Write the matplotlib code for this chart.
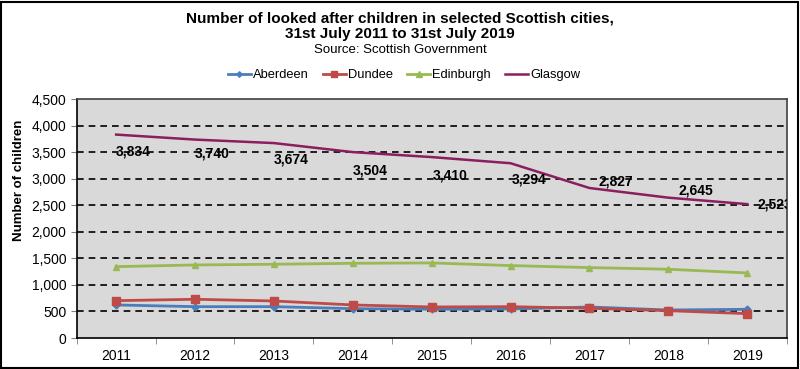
import matplotlib
matplotlib.use("Agg")
import matplotlib.pyplot as plt
from matplotlib.patches import Rectangle
from matplotlib.ticker import FuncFormatter, MultipleLocator, FixedLocator
import numpy as np

years = ["2011", "2012", "2013", "2014", "2015", "2016", "2017", "2018", "2019"]
aberdeen = [623, 591, 591, 553, 541, 547, 585, 528, 541]
dundee = [704, 730, 698, 623, 585, 591, 560, 515, 459]
edinburgh = [1345, 1377, 1390, 1408, 1415, 1365, 1327, 1296, 1226]
glasgow = [3834, 3740, 3674, 3504, 3410, 3294, 2827, 2645, 2523]

# label offsets (pixels: dx, dy with +dy downward) mimicking the reference placement
label_dx = [0, 0, 0, 0, 1, 1, 9, 10, 10]
label_dy = [17, 14, 16, 18, 18, 16, -7, -7, 0]

plt.rcParams['font.family'] = ['Liberation Sans', 'DejaVu Sans']

fig = plt.figure(figsize=(8.0, 3.69), dpi=100)
fig.patches.append(Rectangle((0.0015, 0.003), 0.996, 0.992, transform=fig.transFigure,
                             fill=False, edgecolor='black', linewidth=1.5))

ax = fig.add_axes([0.0959, 0.084, 0.8875, 0.647])
ax.set_facecolor('#D9D9D9')
x = np.arange(len(years))

ax.plot(x, aberdeen, color='#4A7EBB', lw=2, marker='D', ms=3.5, label='Aberdeen', zorder=3)
ax.plot(x, dundee, color='#BE4B48', lw=2, marker='s', ms=5.5, label='Dundee', zorder=4)
ax.plot(x, edinburgh, color='#98B954', lw=2, marker='^', ms=5, label='Edinburgh', zorder=3)
ax.plot(x, glasgow, color='#8B1E5E', lw=1.8, label='Glasgow', zorder=3)

for i, v in enumerate(glasgow):
    ax.annotate(f"{v:,}", (x[i], v), xytext=(label_dx[i] * 0.72, -label_dy[i] * 0.72),
                textcoords='offset points', ha='left', va='center',
                fontsize=10, fontweight='bold', zorder=5, annotation_clip=False, clip_on=True)

ax.set_xlim(-0.5, len(years) - 0.5)
ax.set_ylim(0, 4500)
ax.yaxis.set_major_locator(MultipleLocator(500))
ax.yaxis.set_major_formatter(FuncFormatter(lambda v, p: f"{int(v):,}"))
for yv in range(500, 4500, 500):
    ax.axhline(yv, color='black', lw=1.2, ls=(0, (4, 3)), zorder=1)

ax.set_xticks(x)
ax.set_xticklabels(years)
ax.xaxis.set_minor_locator(FixedLocator(np.arange(-0.5, len(years), 1.0)))
ax.tick_params(axis='x', which='major', length=0, pad=8, labelsize=10)
ax.tick_params(axis='x', which='minor', length=4, direction='out', color='#808080')
ax.tick_params(axis='y', which='major', length=4, direction='out', labelsize=10, color='#808080')

for s in ['left', 'bottom']:
    ax.spines[s].set_color('black')
    ax.spines[s].set_linewidth(1.2)
for s in ['top', 'right']:
    ax.spines[s].set_color('#404040')
    ax.spines[s].set_linewidth(1.2)

ax.set_ylabel('Number of children', fontsize=9.5, fontweight='bold')
ax.yaxis.set_label_coords(-0.073, 0.66)

fig.text(0.5, 0.950, 'Number of looked after children in selected Scottish cities,',
         ha='center', va='center', fontsize=11, fontweight='bold')
fig.text(0.5, 0.907, '31st July 2011 to 31st July 2019',
         ha='center', va='center', fontsize=11, fontweight='bold')
fig.text(0.5, 0.865, 'Source: Scottish Government', ha='center', va='center', fontsize=9.5)

leg = fig.legend(loc='center', bbox_to_anchor=(0.505, 0.796), ncol=4, frameon=False,
                 handlelength=1.8, handletextpad=0.15, columnspacing=1.1,
                 markerscale=0.8, prop={'size': 9.3})

fig.savefig('out.png', dpi=100)
